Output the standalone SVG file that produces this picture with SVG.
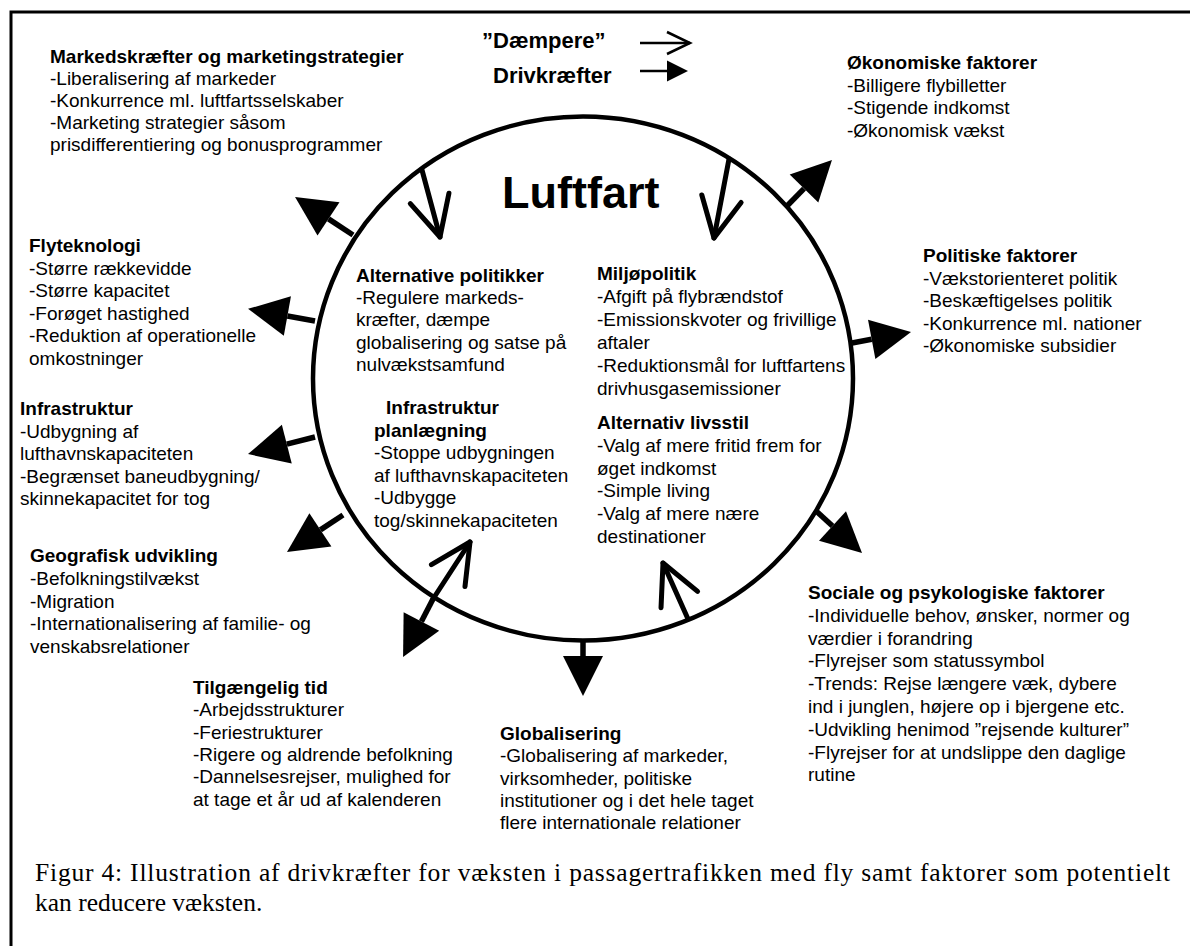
<svg xmlns="http://www.w3.org/2000/svg" width="1190" height="946" viewBox="0 0 1190 946">
<style>
text{font-family:"Liberation Sans",Arial,sans-serif;font-size:19px;fill:#000}
.b{font-weight:bold}
.leg{font-size:22px;font-weight:bold}
.cap{font-family:"Liberation Serif","Times New Roman",serif;font-size:25.5px}
.shaft{stroke:#000;stroke-width:5.5;fill:none}
.damp{stroke:#000;stroke-width:5;fill:none;stroke-linecap:round}
.legline{stroke:#000;stroke-width:2.5;fill:none}
</style>
<defs>
<marker id="fill" markerUnits="userSpaceOnUse" markerWidth="42" markerHeight="42" refX="0" refY="20" orient="auto" overflow="visible">
<path d="M0,0 L40,20 L0,40 Z" fill="#000"/>
</marker>
<marker id="open" markerUnits="userSpaceOnUse" markerWidth="50" markerHeight="50" refX="40" refY="20" orient="auto" overflow="visible">
<path d="M0,0 L40,20 L0,40" fill="none" stroke="#000" stroke-width="5" stroke-linecap="round" stroke-linejoin="round"/>
</marker>
<marker id="legfill" markerUnits="userSpaceOnUse" markerWidth="24" markerHeight="22" refX="0" refY="10.5" orient="auto" overflow="visible">
<path d="M0,0 L21,10.5 L0,21 Z" fill="#000"/>
</marker>
<marker id="legopen" markerUnits="userSpaceOnUse" markerWidth="24" markerHeight="24" refX="23" refY="11" orient="auto" overflow="visible">
<path d="M0,0 L23,11 L0,22" fill="none" stroke="#000" stroke-width="2.5"/>
</marker>
</defs>
<rect width="1190" height="946" fill="#fff"/>
<path d="M11,946 V12 H1190" fill="none" stroke="#000" stroke-width="3"/>

<g id="legend">
<text class="leg" x="482" y="48">”Dæmpere”</text>
<text class="leg" x="493" y="83">Drivkræfter</text>
<line class="legline" x1="640" y1="43" x2="690" y2="43" marker-end="url(#legopen)"/>
<line class="legline" x1="640" y1="71" x2="667" y2="71" marker-end="url(#legfill)"/>
</g>

<g id="luftfart">
<ellipse cx="583" cy="378.5" rx="270" ry="262" fill="none" stroke="#000" stroke-width="4.5"/>
<text class="b" x="502" y="208" style="font-size:45px">Luftfart</text>
</g>

<g id="connectors">
<line class="shaft" x1="353" y1="235" x2="328.5" y2="218.9" marker-end="url(#fill)"/>
<line class="shaft" x1="315" y1="321" x2="287.4" y2="316" marker-end="url(#fill)"/>
<line class="shaft" x1="315" y1="437" x2="286.8" y2="444.2" marker-end="url(#fill)"/>
<line class="shaft" x1="343" y1="515" x2="320.4" y2="529.9" marker-end="url(#fill)"/>
<line class="shaft" x1="433" y1="599" x2="421.4" y2="621.5" marker-end="url(#fill)"/>
<line class="shaft" x1="583" y1="639" x2="583" y2="656" marker-end="url(#fill)"/>
<line class="shaft" x1="815" y1="510" x2="832.5" y2="526" marker-end="url(#fill)"/>
<line class="shaft" x1="852" y1="343" x2="871.7" y2="339.3" marker-end="url(#fill)"/>
<line class="shaft" x1="786" y1="207" x2="804" y2="188.6" marker-end="url(#fill)"/>
<line class="damp" x1="422" y1="170" x2="440" y2="237" marker-end="url(#open)"/>
<line class="damp" x1="729" y1="159" x2="714" y2="238" marker-end="url(#open)"/>
<line class="damp" x1="433" y1="599" x2="470" y2="542" marker-end="url(#open)"/>
<line class="damp" x1="688" y1="619" x2="663" y2="563" marker-end="url(#open)"/>
</g>

<g id="markedskraefter">
<text x="50" y="63"><tspan class="b">Markedskræfter og marketingstrategier</tspan><tspan x="50" dy="22">-Liberalisering af markeder</tspan><tspan x="50" dy="22">-Konkurrence ml. luftfartsselskaber</tspan><tspan x="50" dy="22">-Marketing strategier såsom</tspan><tspan x="50" dy="22">prisdifferentiering og bonusprogrammer</tspan></text>
</g>
<g id="okonomiske">
<text x="847" y="69"><tspan class="b">Økonomiske faktorer</tspan><tspan x="847" dy="22.5">-Billigere flybilletter</tspan><tspan x="847" dy="22.5">-Stigende indkomst</tspan><tspan x="847" dy="22.5">-Økonomisk vækst</tspan></text>
</g>
<g id="politiske">
<text x="923" y="262"><tspan class="b">Politiske faktorer</tspan><tspan x="923" dy="22.6">-Vækstorienteret politik</tspan><tspan x="923" dy="22.6">-Beskæftigelses politik</tspan><tspan x="923" dy="22.6">-Konkurrence ml. nationer</tspan><tspan x="923" dy="22.6">-Økonomiske subsidier</tspan></text>
</g>
<g id="flyteknologi">
<text x="29" y="252"><tspan class="b">Flyteknologi</tspan><tspan x="29" dy="22.6">-Større rækkevidde</tspan><tspan x="29" dy="22.6">-Større kapacitet</tspan><tspan x="29" dy="22.6">-Forøget hastighed</tspan><tspan x="29" dy="22.6">-Reduktion af operationelle</tspan><tspan x="29" dy="22.6">omkostninger</tspan></text>
</g>
<g id="infrastruktur">
<text x="20" y="415"><tspan class="b">Infrastruktur</tspan><tspan x="20" dy="22.6">-Udbygning af</tspan><tspan x="20" dy="22.6">lufthavnskapaciteten</tspan><tspan x="20" dy="22.6">-Begrænset baneudbygning/</tspan><tspan x="20" dy="22.6">skinnekapacitet for tog</tspan></text>
</g>
<g id="geografisk">
<text x="30" y="562"><tspan class="b">Geografisk udvikling</tspan><tspan x="30" dy="22.8">-Befolkningstilvækst</tspan><tspan x="30" dy="22.8">-Migration</tspan><tspan x="30" dy="22.8">-Internationalisering af familie- og</tspan><tspan x="30" dy="22.8">venskabsrelationer</tspan></text>
</g>
<g id="tilgaengelig">
<text x="193" y="694"><tspan class="b">Tilgængelig tid</tspan><tspan x="193" dy="22.3">-Arbejdsstrukturer</tspan><tspan x="193" dy="22.3">-Feriestrukturer</tspan><tspan x="193" dy="22.3">-Rigere og aldrende befolkning</tspan><tspan x="193" dy="22.3">-Dannelsesrejser, mulighed for</tspan><tspan x="193" dy="22.3">at tage et år ud af kalenderen</tspan></text>
</g>
<g id="globalisering">
<text x="500" y="740"><tspan class="b">Globalisering</tspan><tspan x="500" dy="22.3">-Globalisering af markeder,</tspan><tspan x="500" dy="22.3">virksomheder, politiske</tspan><tspan x="500" dy="22.3">institutioner og i det hele taget</tspan><tspan x="500" dy="22.3">flere internationale relationer</tspan></text>
</g>
<g id="sociale">
<text x="808" y="599"><tspan class="b">Sociale og psykologiske faktorer</tspan><tspan x="808" dy="22.8">-Individuelle behov, ønsker, normer og</tspan><tspan x="808" dy="22.8">værdier i forandring</tspan><tspan x="808" dy="22.8">-Flyrejser som statussymbol</tspan><tspan x="808" dy="22.8">-Trends: Rejse længere væk, dybere</tspan><tspan x="808" dy="22.8">ind i junglen, højere op i bjergene etc.</tspan><tspan x="808" dy="22.8">-Udvikling henimod ”rejsende kulturer”</tspan><tspan x="808" dy="22.8">-Flyrejser for at undslippe den daglige</tspan><tspan x="808" dy="22.8">rutine</tspan></text>
</g>
<g id="alternative-politikker">
<text x="356" y="282"><tspan class="b">Alternative politikker</tspan><tspan x="356" dy="22.2">-Regulere markeds-</tspan><tspan x="356" dy="22.2">kræfter, dæmpe</tspan><tspan x="356" dy="22.2">globalisering og satse på</tspan><tspan x="356" dy="22.2">nulvækstsamfund</tspan></text>
</g>
<g id="miljopolitik">
<text x="597" y="280"><tspan class="b">Miljøpolitik</tspan><tspan x="597" dy="23">-Afgift på flybrændstof</tspan><tspan x="597" dy="23">-Emissionskvoter og frivillige</tspan><tspan x="597" dy="23">aftaler</tspan><tspan x="597" dy="23">-Reduktionsmål for luftfartens</tspan><tspan x="597" dy="23">drivhusgasemissioner</tspan></text>
</g>
<g id="alternativ-livsstil">
<text x="597" y="429"><tspan class="b">Alternativ livsstil</tspan><tspan x="597" dy="22.8">-Valg af mere fritid frem for</tspan><tspan x="597" dy="22.8">øget indkomst</tspan><tspan x="597" dy="22.8">-Simple living</tspan><tspan x="597" dy="22.8">-Valg af mere nære</tspan><tspan x="597" dy="22.8">destinationer</tspan></text>
</g>
<g id="infrastruktur-planlaegning">
<text x="386" y="414"><tspan class="b">Infrastruktur</tspan><tspan class="b" x="374" dy="22.5">planlægning</tspan><tspan x="374" dy="22.5">-Stoppe udbygningen</tspan><tspan x="374" dy="22.5">af lufthavnskapaciteten</tspan><tspan x="374" dy="22.5">-Udbygge</tspan><tspan x="374" dy="22.5">tog/skinnekapaciteten</tspan></text>
</g>
<g id="caption">
<text class="cap" x="35" y="881" textLength="1135" lengthAdjust="spacing">Figur 4: Illustration af drivkræfter for væksten i passagertrafikken med fly samt faktorer som potentielt</text>
<text class="cap" x="35" y="911">kan reducere væksten.</text>
</g>
</svg>
